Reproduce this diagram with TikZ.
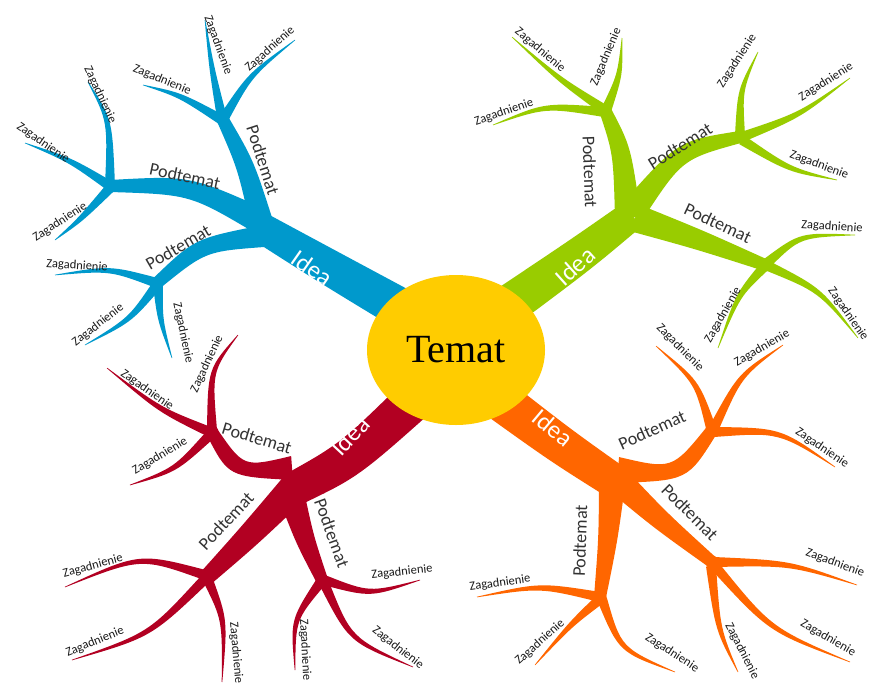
\documentclass[tikz,border=0pt]{standalone}
\usepackage{fontspec}
\setmainfont{Carlito}
\newfontfamily\temafont{Liberation Serif}
\usetikzlibrary{calc,shapes.geometric}
\definecolor{cblue}{RGB}{0,153,204}
\definecolor{cgreen}{RGB}{153,204,0}
\definecolor{corange}{RGB}{255,102,0}
\definecolor{cred}{RGB}{178,0,34}
\definecolor{cyell}{RGB}{255,204,0}
% tapered branch: colour, start, control, end, half width at start, half width at end
\newcommand\mmtwig[6]{%
  \pgfmathsetmacro\twA{#5}%
  \pgfmathsetmacro\twB{#6}%
  \pgfmathsetmacro\twC{(#5+#6)/2}%
  \fill[#1] ($#2!\twA pt!90:#3$) .. controls ($#3!\twC pt!90:#4$) .. ($#4!\twB pt!-90:#3$)
    -- ($#4!\twB pt!90:#3$) .. controls ($#3!\twC pt!-90:#4$) .. ($#2!\twA pt!-90:#3$) -- cycle;}
\newcommand\mmzag[4]{\mmtwig{#1}{#2}{#3}{#4}{5}{0.3}}
\newcommand\mmfork[2]{\fill[#1] #2 circle (6.5pt);}
\tikzset{
  zag/.style={font=\fontsize{12.5}{13}\selectfont, text=black!90, inner sep=0pt},
  pod/.style={font=\fontsize{18}{20}\selectfont, text=black!80, inner sep=0pt},
  idea/.style={font=\fontsize{25}{28}\selectfont, text=white, inner sep=0pt},
  tema/.style={ellipse, fill=cyell, minimum width=178pt, minimum height=150pt,
    font=\temafont\fontsize{40}{44}\selectfont, text=black, inner sep=0pt}
}
\begin{document}
\begin{tikzpicture}[x=1pt,y=-1pt]
\fill[white] (0,0) rectangle (869,688);
\useasboundingbox (0,0) rectangle (869,688);

% ---------------- BLUE ----------------
\mmtwig{cblue}{(430,325)}{(330,268)}{(262,228)}{21}{15}
\mmtwig{cblue}{(264,232)}{(246,165)}{(222,118)}{12}{6}
\mmtwig{cblue}{(262,222)}{(190,185)}{(110,186)}{13}{6}
\mmtwig{cblue}{(264,236)}{(200,245)}{(157,283)}{11}{6}
\mmfork{cblue}{(222,118)}
\mmfork{cblue}{(110,186)}
\mmfork{cblue}{(157,283)}
\mmzag{cblue}{(222,118)}{(212,70)}{(205,20)}
\mmzag{cblue}{(224,118)}{(250,75)}{(295,40)}
\mmzag{cblue}{(222,120)}{(180,95)}{(143,85)}
\mmzag{cblue}{(110,186)}{(110,120)}{(88,82)}
\mmzag{cblue}{(110,186)}{(70,160)}{(25,143)}
\mmzag{cblue}{(110,188)}{(80,220)}{(55,240)}
\mmzag{cblue}{(157,283)}{(110,268)}{(55,275)}
\mmzag{cblue}{(157,285)}{(130,320)}{(85,345)}
\mmzag{cblue}{(158,285)}{(160,320)}{(172,358)}

% ---------------- GREEN ----------------
\mmtwig{cgreen}{(485,322)}{(580,255)}{(632,215)}{21}{15}
\mmtwig{cgreen}{(628,218)}{(622,150)}{(605,110)}{13}{6}
\mmtwig{cgreen}{(632,212)}{(680,150)}{(740,137)}{13}{6}
\mmtwig{cgreen}{(635,218)}{(700,240)}{(765,265)}{14}{6}
\mmfork{cgreen}{(605,110)}
\mmfork{cgreen}{(740,137)}
\mmfork{cgreen}{(765,265)}
\mmzag{cgreen}{(605,110)}{(560,80)}{(512,37)}
\mmzag{cgreen}{(607,108)}{(620,75)}{(622,38)}
\mmzag{cgreen}{(604,112)}{(545,105)}{(493,125)}
\mmzag{cgreen}{(740,135)}{(740,90)}{(758,52)}
\mmzag{cgreen}{(742,137)}{(800,115)}{(850,78)}
\mmzag{cgreen}{(742,140)}{(790,170)}{(837,180)}
\mmzag{cgreen}{(767,263)}{(800,235)}{(855,235)}
\mmzag{cgreen}{(768,266)}{(820,290)}{(858,338)}
\mmzag{cgreen}{(764,267)}{(738,295)}{(718,348)}

% ---------------- ORANGE ----------------
\mmtwig{corange}{(480,385)}{(560,445)}{(620,485)}{21}{17}
\mmtwig{corange}{(618,470)}{(680,475)}{(712,430)}{13}{6}
\mmtwig{corange}{(612,475)}{(660,520)}{(712,562)}{14}{6}
\mmtwig{corange}{(612,485)}{(608,540)}{(600,597)}{13}{6}
\mmfork{corange}{(712,430)}
\mmfork{corange}{(712,562)}
\mmfork{corange}{(600,597)}
\mmzag{corange}{(711,428)}{(697,382)}{(656,346)}
\mmzag{corange}{(714,428)}{(740,375)}{(783,345)}
\mmzag{corange}{(714,432)}{(780,430)}{(835,467)}
\mmzag{corange}{(714,562)}{(790,563)}{(857,585)}
\mmzag{corange}{(714,565)}{(770,630)}{(850,662)}
\mmzag{corange}{(711,566)}{(718,630)}{(738,672)}
\mmzag{corange}{(600,597)}{(540,585)}{(477,597)}
\mmzag{corange}{(599,600)}{(570,625)}{(535,665)}
\mmzag{corange}{(602,599)}{(620,650)}{(675,672)}

% ---------------- RED ----------------
\mmtwig{cred}{(430,385)}{(350,460)}{(292,490)}{21}{17}
\mmtwig{cred}{(300,482)}{(250,535)}{(207,577)}{16}{8}
\mmtwig{cred}{(292,468)}{(236,472)}{(212,432)}{12}{6}
\mmtwig{cred}{(292,497)}{(305,540)}{(322,580)}{13}{6}
\mmfork{cred}{(212,432)}
\mmfork{cred}{(322,580)}
\mmfork{cred}{(207,577)}
\mmzag{cred}{(212,430)}{(210,370)}{(238,335)}
\mmzag{cred}{(210,432)}{(160,410)}{(107,368)}
\mmzag{cred}{(210,435)}{(175,470)}{(130,485)}
\mmzag{cred}{(324,580)}{(370,595)}{(420,580)}
\mmzag{cred}{(324,583)}{(350,640)}{(413,667)}
\mmzag{cred}{(320,583)}{(293,620)}{(295,670)}
\mmzag{cred}{(205,575)}{(140,555)}{(65,587)}
\mmzag{cred}{(205,579)}{(150,635)}{(72,660)}
\mmzag{cred}{(208,580)}{(225,620)}{(222,682)}

% ---------------- centre ----------------
\node[tema] (temat) at (456,350) {Temat};

% ---------------- labels ----------------
\node[idea, rotate=-35] (ib) at (312,268) {Idea};
\node[idea, rotate=42] (ig) at (575,266) {Idea};
\node[idea, rotate=-40] (io) at (553,428) {Idea};
\node[idea, rotate=47] (ir) at (350,436) {Idea};

\node[pod, rotate=-72] (pb1) at (263,160) {Podtemat};
\node[pod, rotate=-12] (pb2) at (185,176) {Podtemat};
\node[pod, rotate=30] (pb3) at (178,247) {Podtemat};
\node[pod, rotate=-88] (pg1) at (590,172) {Podtemat};
\node[pod, rotate=32] (pg2) at (680,146) {Podtemat};
\node[pod, rotate=-25] (pg3) at (718,223) {Podtemat};
\node[pod, rotate=24] (po1) at (652,430) {Podtemat};
\node[pod, rotate=-45] (po2) at (690,512) {Podtemat};
\node[pod, rotate=88] (po3) at (580,541) {Podtemat};
\node[pod, rotate=-17] (pr1) at (257,438) {Podtemat};
\node[pod, rotate=-70] (pr2) at (332,533) {Podtemat};
\node[pod, rotate=47] (pr3) at (226,521) {Podtemat};

\node[zag, rotate=-70] (zb1) at (218,45) {Zagadnienie};
\node[zag, rotate=42] (zb2) at (270,49) {Zagadnienie};
\node[zag, rotate=-22] (zb3) at (162,80) {Zagadnienie};
\node[zag, rotate=-65] (zb4) at (100,95) {Zagadnienie};
\node[zag, rotate=-35] (zb5) at (43,143) {Zagadnienie};
\node[zag, rotate=33] (zb6) at (60,222) {Zagadnienie};
\node[zag, rotate=-4] (zb7) at (77,266) {Zagadnienie};
\node[zag, rotate=38] (zb8) at (98,325) {Zagadnienie};
\node[zag, rotate=-78] (zb9) at (183,333) {Zagadnienie};

\node[zag, rotate=-40] (zg1) at (540,50) {Zagadnienie};
\node[zag, rotate=67] (zg2) at (606,57) {Zagadnienie};
\node[zag, rotate=19] (zg3) at (504,112) {Zagadnienie};
\node[zag, rotate=57] (zg4) at (737,61) {Zagadnienie};
\node[zag, rotate=32] (zg5) at (826,82) {Zagadnienie};
\node[zag, rotate=-20] (zg6) at (819,165) {Zagadnienie};
\node[zag, rotate=-4] (zg7) at (832,227) {Zagadnienie};
\node[zag, rotate=-55] (zg8) at (848,314) {Zagadnienie};
\node[zag, rotate=60] (zg9) at (723,315) {Zagadnienie};

\node[zag, rotate=-45] (zo1) at (680,348) {Zagadnienie};
\node[zag, rotate=30] (zo2) at (762,348) {Zagadnienie};
\node[zag, rotate=-34] (zo3) at (822,448) {Zagadnienie};
\node[zag, rotate=-20] (zo4) at (835,563) {Zagadnienie};
\node[zag, rotate=-30] (zo5) at (828,638) {Zagadnienie};
\node[zag, rotate=-63] (zo6) at (742,651) {Zagadnienie};
\node[zag, rotate=8] (zo7) at (500,583) {Zagadnienie};
\node[zag, rotate=42] (zo8) at (540,642) {Zagadnienie};
\node[zag, rotate=-33] (zo9) at (672,653) {Zagadnienie};

\node[zag, rotate=65] (zr1) at (207,364) {Zagadnienie};
\node[zag, rotate=-35] (zr2) at (147,390) {Zagadnienie};
\node[zag, rotate=31] (zr3) at (160,456) {Zagadnienie};
\node[zag, rotate=6] (zr4) at (402,572) {Zagadnienie};
\node[zag, rotate=-38] (zr5) at (398,648) {Zagadnienie};
\node[zag, rotate=-87] (zr6) at (305,650) {Zagadnienie};
\node[zag, rotate=15] (zr7) at (93,566) {Zagadnienie};
\node[zag, rotate=22] (zr8) at (95,642) {Zagadnienie};
\node[zag, rotate=-85] (zr9) at (236,653) {Zagadnienie};
\end{tikzpicture}
\end{document}
